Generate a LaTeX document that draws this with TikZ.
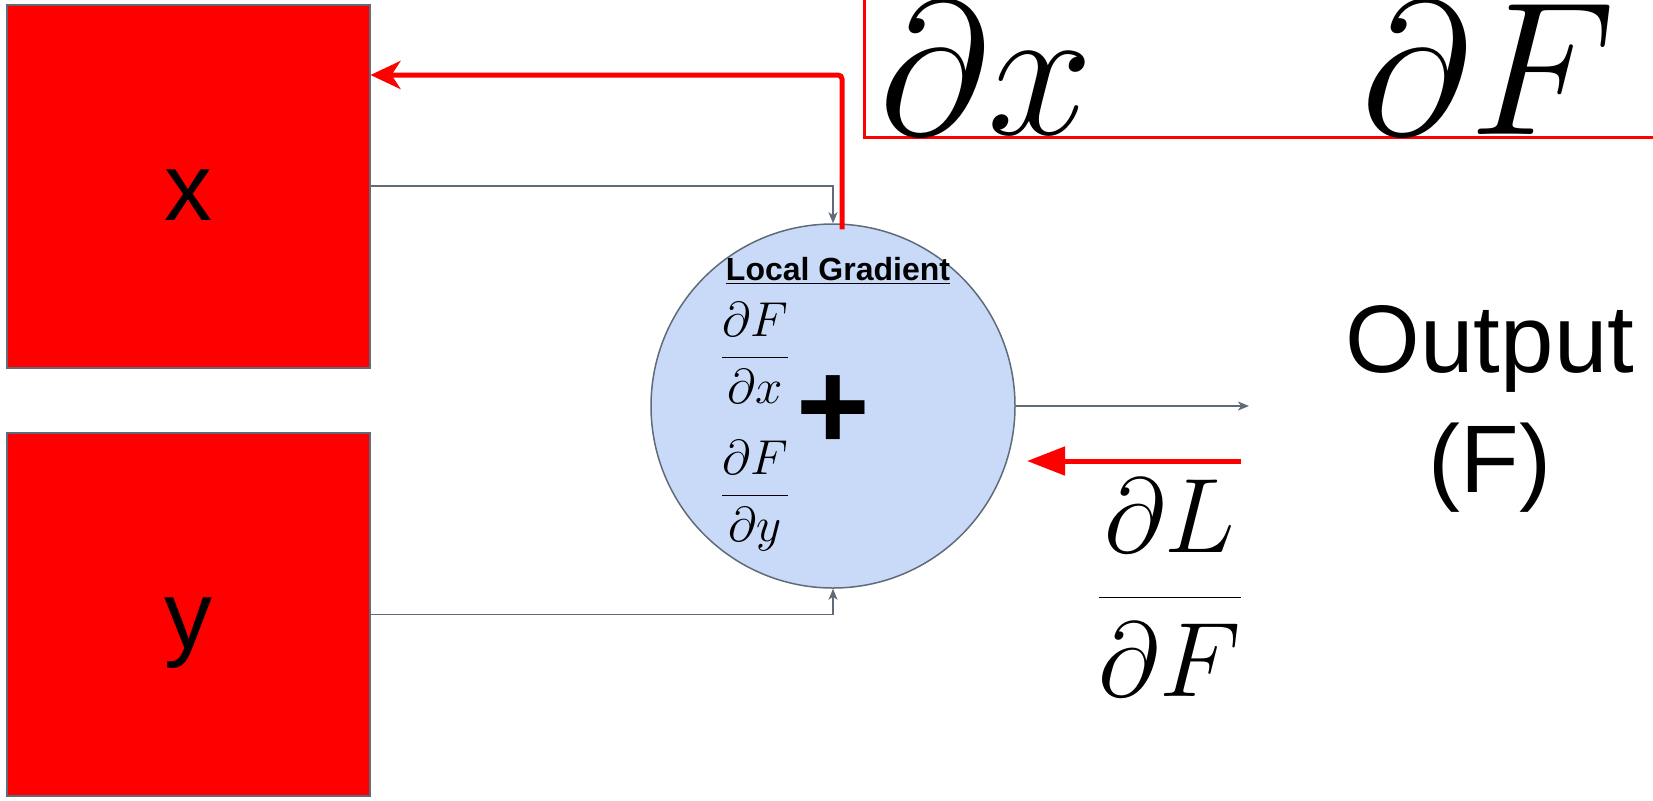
\RequirePackage{fix-cm}
\documentclass[tikz,border=0pt]{standalone}
\usepackage{fontspec}
\setmainfont{Liberation Sans}
\usetikzlibrary{arrows.meta,positioning}
\definecolor{edgegray}{RGB}{95,107,120}
\definecolor{gatefill}{RGB}{201,218,248}
\tikzset{
      inputbox/.style={
        draw=edgegray,
        line width=1pt,
        fill=red,
        minimum width=181.5pt,
        minimum height=181.5pt,
        inner sep=0pt,
        text height=34pt,
        text depth=0pt,
        font=\fontsize{48}{57}\selectfont
      },
      gatecircle/.style={
        circle,
        draw=edgegray,
        line width=0.75pt,
        fill=gatefill,
        minimum size=182pt,
        inner sep=0pt
      },
      flowline/.style={
        draw=edgegray,
        line width=0.7pt,
        -{Stealth[length=5.5pt,width=4.5pt,inset=1.5pt]}
      },
      backline/.style={
        draw=red,
        line width=2.5pt
      },
      mathlabel/.style={
        inner sep=0pt,
        anchor=base
      }
    }

\begin{document}
\begin{tikzpicture}[x=0.5pt,y=-0.5pt]
    \useasboundingbox (0,0) rectangle (1653,800);
    % inputs and the add gate
    \node[inputbox] (bx) at (188,186) {x};
    \node[inputbox] (by) at (188,614.5) {y};
    \node[gatecircle] (gate) at (833,406) {};
    \node[mathlabel, font=\fontsize{16}{19}\selectfont\bfseries] (lgrad) at (838,280) {\underline{Local Gradient}};
    \node[mathlabel, font=\fontsize{24.5}{29}\selectfont] (dfdx) at (755,370) {$\displaystyle\frac{\partial F}{\partial x}$};
    \node[mathlabel, font=\fontsize{24.5}{29}\selectfont] (dfdy) at (755,508) {$\displaystyle\frac{\partial F}{\partial y}$};
    \node[inner sep=0pt, font=\fontsize{63}{63}\selectfont\bfseries] (plus) at (833,413) {+};
    % output side
    \node[anchor=base, align=center, inner sep=0pt, font=\fontsize{48}{60}\selectfont] (out) at (1490,492) {Output\\(F)};
    \node[mathlabel, font=\fontsize{53}{60}\selectfont] (dldf) at (1170,624) {$\displaystyle\frac{\partial L}{\partial F}$};
    \coordinate (outtip) at (1249,406);
    \coordinate (gradstart) at (1241,461);
    \coordinate (gradtip) at (1027,461);
    \coordinate (bend) at (842,75);
    % forward pass
    \draw[flowline] (bx.east) -| (gate.north);
    \draw[flowline] (by.east) -| (gate.south);
    \draw[flowline] (gate.east) -- (outtip);
    % backward pass
    \draw[backline, -{Triangle[length=19pt,width=14pt]}] (gradstart) -- (gradtip);
    \draw[backline, rounded corners=2pt, shorten <=-3pt, -{Stealth[length=15pt,width=14pt,inset=4.5pt]}] (bend |- gate.north) -- (bend) -- (bend -| bx.east);
    % cut-off chain rule at the top
    \draw[red, line width=1.5pt] (864,-10) rectangle (1670,137);
    \node[anchor=base west, inner sep=0pt, font=\fontsize{95}{95}\selectfont] (denx) at (879,134) {$\partial x$};
    \node[anchor=base west, inner sep=0pt, font=\fontsize{95}{95}\selectfont] (denf) at (1361,134) {$\partial F$};
\end{tikzpicture}
\end{document}
